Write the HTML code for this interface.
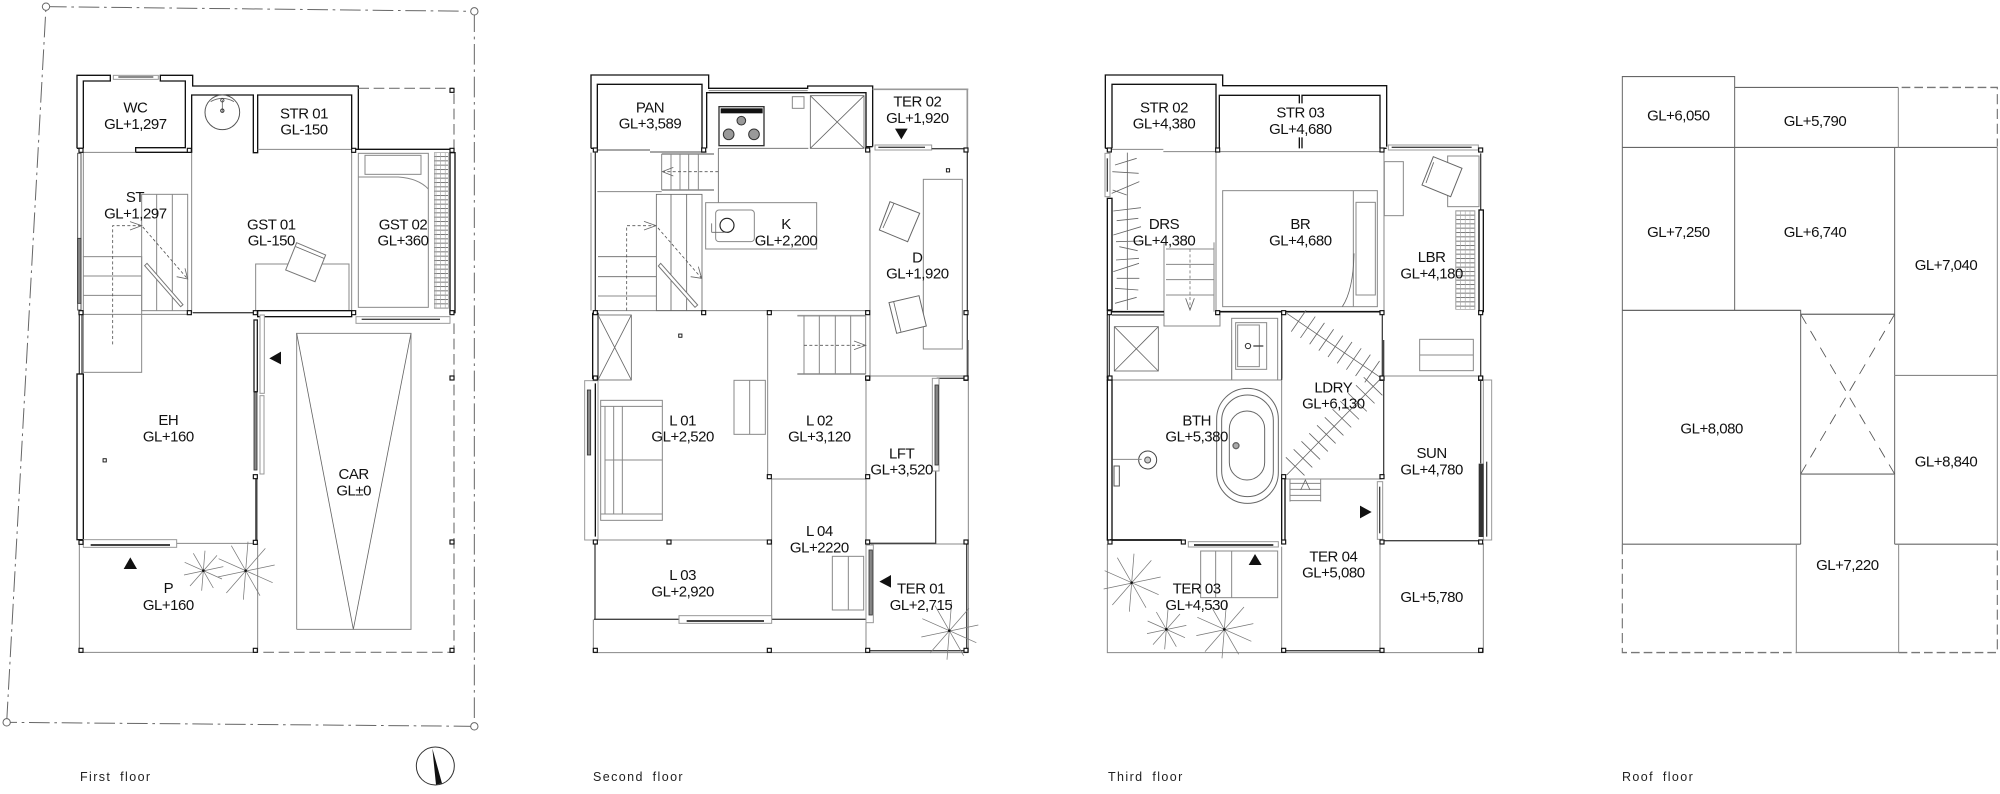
<!DOCTYPE html>
<html><head><meta charset="utf-8">
<style>
html,body{margin:0;padding:0;background:#fff}
svg{display:block}
text{font-family:"Liberation Sans","Noto Sans CJK JP",sans-serif;font-size:45px;letter-spacing:-1.4px;text-anchor:middle;fill:#111}
.cap{font-size:12.5px;text-anchor:start;fill:#222;letter-spacing:1.4px;word-spacing:4px}
.k{fill:none;stroke:#111;stroke-width:4}
.b{fill:none;stroke:#111;stroke-width:6}
.d{fill:none;stroke:#444;stroke-width:4}
.g{fill:none;stroke:#888;stroke-width:3}
.m{fill:none;stroke:#999;stroke-width:5}
.t{fill:none;stroke:#666;stroke-width:2.5}
.da{fill:none;stroke:#555;stroke-width:2.5;stroke-dasharray:9 7}
.ds{fill:none;stroke:#777;stroke-width:3.5;stroke-dasharray:32 14}
.f{fill:#111;stroke:none}
.fd{fill:#888;stroke:#333;stroke-width:2.5}
.w{fill:#fff;stroke:#999;stroke-width:3}
</style></head>
<body>
<svg xmlns="http://www.w3.org/2000/svg" width="2000" height="794" viewBox="0 0 2000 794">
<defs>
<g id="c"><rect x="-6" y="-6" width="12" height="12" fill="#fff" stroke="#111" stroke-width="3.5"/></g>
<g id="s" fill="none" stroke="#777" stroke-width="2.2">
<path d="M-56,-25L56,25M5,-60L-5,60M41,-46L-40,46M60,-12L-58,13M-30,-52L30,52"/>
<circle r="4" fill="#111" stroke="none"/>
</g>
<g id="S" fill="none" stroke="#777" stroke-width="2.2">
<path d="M-81,-36L81,36M7,-87L-7,87M59,-67L-58,67M87,-17L-84,19M-43,-75L43,75"/>
<circle r="4" fill="#111" stroke="none"/>
</g>
<pattern id="h" width="14" height="13" patternUnits="userSpaceOnUse"><rect width="14" height="13" fill="#fff"/><rect y="0" width="14" height="3" fill="#777"/><rect x="5" width="2" height="13" fill="#aaa"/></pattern>
</defs>

<!-- FIRST FLOOR upper -->
<g transform="scale(.33333)">
<path d="M138,20L1423,34M1423,34V2179M1423,2179L20,2167M20,2167L138,20" fill="none" stroke="#666" stroke-width="3" stroke-dasharray="62 14 8 14"/>
<circle cx="138" cy="20" r="11" fill="#fff" stroke="#666" stroke-width="3"/>
<circle cx="1423" cy="34" r="11" fill="#fff" stroke="#666" stroke-width="3"/>
<circle cx="20" cy="2167" r="11" fill="#fff" stroke="#666" stroke-width="3"/>
<circle cx="1423" cy="2179" r="11" fill="#fff" stroke="#666" stroke-width="3"/>

<path class="k" d="M231,445V226H331V243H250V445M231,445H250"/>
<path class="k" d="M481,226H578V258H1075V448H1055V285H773V458H760V285H575V457H407V443H556V243H481Z"/>
<rect x="340" y="226" width="135" height="12" class="w"/><path class="d" d="M355,231H460"/>
<path class="g" d="M250,457H407M575,457V938M1055,457V938M773,448H1055"/>
<path class="k" d="M1075,448H1350"/>
<rect x="1350" y="458" width="15" height="480" fill="#fff" stroke="#111" stroke-width="4"/>
<rect x="233" y="460" width="10" height="470" fill="#fff" stroke="#555" stroke-width="3"/>
<rect x="233" y="715" width="10" height="195" class="fd"/>
<path class="g" d="M250,457V770"/>
<rect x="1303" y="458" width="42" height="467" fill="url(#h)" stroke="#999" stroke-width="2"/>
<rect x="1075" y="460" width="210" height="462" class="g"/>
<rect x="1095" y="466" width="168" height="57" class="g"/>
<path class="g" d="M1075,531H1195Q1255,535 1285,567"/>
<rect x="425" y="583" width="138" height="349" class="g"/>
<path class="g" d="M470,583V932M517,583V932"/>
<rect x="250" y="770" width="175" height="347" class="g"/>
<path class="g" d="M250,828H425M250,886H425M250,943H575"/>
<path class="da" d="M338,1033V677H425L563,837"/>
<path class="t" d="M390,665L425,677L390,690M530,830L563,837L555,805"/>
<polygon points="441,790 549,914 542,920 434,797" fill="#fff" stroke="#777" stroke-width="3"/>
<path class="g" d="M767,935V792H1047V935"/>
<polygon points="890,728 977,765 945,845 857,810" fill="#fff" stroke="#777" stroke-width="3"/>
<path class="t" d="M887,740L972,775"/>
<circle cx="667" cy="337" r="52" fill="#fff" stroke="#555" stroke-width="3"/>
<path class="t" d="M632,305Q667,285 702,305M667,300V335"/>
<circle cx="667" cy="301" r="5" fill="none" stroke="#333" stroke-width="2.5"/>
<circle cx="667" cy="332" r="5" fill="none" stroke="#333" stroke-width="3"/>
<path class="d" d="M578,938H760"/>
<rect x="773" y="932" width="282" height="18" fill="#fff" stroke="#111" stroke-width="4"/>
<rect x="1068" y="950" width="282" height="20" class="w"/><path class="d" d="M1085,958H1320"/>
<rect x="762" y="960" width="10" height="215" fill="#fff" stroke="#222" stroke-width="4"/>
<rect x="780" y="945" width="13" height="235" class="w"/>
<polygon class="f" points="808,1075 843,1055 843,1093"/>
<path class="g" d="M890,1888V1000H1233V1888H890"/>
<path class="t" d="M890,1000L1060,1888L1233,1000"/>
<path class="ds" d="M1075,265H1360M1362,280V450"/>
<path class="ds" d="M1362,970V1950"/>
<path class="ds" d="M790,1957H1350"/>
<path class="d" d="M238,945V1130M246,945V1130"/>
<use href="#c" x="243" y="451"/><use href="#c" x="568" y="451"/><use href="#c" x="1061" y="451"/><use href="#c" x="1356" y="451"/>
<use href="#c" x="243" y="938"/><use href="#c" x="568" y="938"/><use href="#c" x="766" y="938"/><use href="#c" x="1061" y="938"/><use href="#c" x="1356" y="938"/>
<use href="#c" x="1356" y="271"/><use href="#c" x="1356" y="1134"/>
<text x="406" y="338">WC</text><text x="406" y="387">GL+1,297</text>
<text x="912" y="355">STR 01</text><text x="912" y="404">GL-150</text>
<text x="405" y="606">ST</text><text x="406" y="655">GL+1,297</text>
<text x="814" y="688">GST 01</text><text x="814" y="737">GL-150</text>
<text x="1209" y="688">GST 02</text><text x="1209" y="737">GL+360</text>
</g>

<!-- FIRST FLOOR lower -->
<g transform="translate(0,394) scale(.33333)">
<rect x="231" y="-60" width="19" height="497" fill="#fff" stroke="#111" stroke-width="4"/>
<rect x="762" y="-5" width="9" height="233" class="fd"/>
<rect x="780" y="5" width="12" height="235" class="w"/>
<path d="M769,250V445" fill="none" stroke="#444" stroke-width="7"/>
<rect x="250" y="437" width="280" height="23" class="w"/>
<path d="M272,453H510" fill="none" stroke="#444" stroke-width="6"/>
<path class="g" d="M530,448H770M238,445V775H773V448"/>
<use href="#c" x="243" y="445"/><use href="#c" x="766" y="445"/><use href="#c" x="243" y="769"/><use href="#c" x="766" y="769"/><use href="#c" x="1356" y="444"/><use href="#c" x="1356" y="769"/><use href="#c" x="766" y="248"/>
<g transform="translate(314,199) scale(.8)"><use href="#c"/></g>
<polygon class="f" points="371,525 411,525 391,490"/>
<use href="#s" x="610" y="530"/>
<use href="#S" x="737" y="530"/>
<text x="505" y="93">EH</text><text x="505" y="142">GL+160</text>
<text x="505" y="597">P</text><text x="505" y="648">GL+160</text>
<text x="1061" y="255">CAR</text><text x="1061" y="304">GL±0</text>
<circle cx="1306" cy="1116" r="57" fill="#fff" stroke="#333" stroke-width="3"/>
<polygon class="f" points="1297,1063 1326,1168 1308,1172"/>
</g>

<!-- SECOND FLOOR upper -->
<g transform="translate(570,50) scale(.33333)">
<path class="k" d="M63,295V75H416V115H713V108H908V290M82,295V103H396V295M63,295H82"/>
<path class="k" d="M410,295V128H713M888,295V128H713M908,290H888"/>
<path class="g" d="M416,122H713"/>
<path class="m" d="M908,118H1195M1192,118V295"/>
<rect x="915" y="285" width="170" height="15" class="w"/><path class="d" d="M925,292H1065"/>
<path class="d" d="M1085,296H1190M1192,300V985"/>
<path class="g" d="M900,300V985M895,978H1192M76,782H893"/>
<rect x="447" y="170" width="135" height="117" fill="#fff" stroke="#333" stroke-width="4"/>
<rect x="452" y="175" width="126" height="15" class="f"/>
<g fill="#999" stroke="#333" stroke-width="3">
<circle cx="514" cy="212" r="13"/><circle cx="476" cy="253" r="16"/><circle cx="552" cy="253" r="16"/>
</g>
<path class="t" d="M445,295H715M445,295V458"/>
<rect x="667" y="140" width="35" height="35" class="g"/>
<rect x="721" y="137" width="161" height="158" class="t"/>
<path class="t" d="M721,137L882,295M882,137L721,295"/>
<path class="m" d="M76,300H240M240,306H410M275,312H432M275,420H432"/>
<path class="g" d="M275,312V420M303,312V420M330,312V420M356,312V420M385,312V420"/>
<path class="da" d="M445,365H280"/><path class="t" d="M310,352L277,365L310,378"/>
<path class="g" d="M63,308V782M82,425H275"/><path class="d" d="M76,308V782"/>
<rect x="259" y="433" width="137" height="349" class="t"/>
<path class="t" d="M303,433V782M350,433V782M84,620H259M84,680H259M84,738H259"/>
<path class="da" d="M170,782V527H258L395,685"/>
<path class="t" d="M222,514L258,527L222,540M362,680L395,685L385,650"/>
<polygon points="272,640 383,765 375,772 265,648" fill="#fff" stroke="#777" stroke-width="3"/>
<rect x="407" y="458" width="333" height="139" class="g"/>
<rect x="437" y="480" width="116" height="95" rx="10" class="g"/>
<circle cx="471" cy="526" r="21" fill="#fff" stroke="#222" stroke-width="3.5"/>
<path class="t" d="M425,547H470M425,520V547"/>
<rect x="1060" y="388" width="117" height="509" class="g"/>
<polygon points="960,455 1049,490 1013,575 928,540" fill="#fff" stroke="#666" stroke-width="3"/>
<path class="t" d="M972,460L939,534"/>
<polygon points="957,758 1047,737 1069,828 980,850" fill="#fff" stroke="#666" stroke-width="3"/>
<path class="t" d="M971,755L993,846"/>
<path class="m" d="M682,797H887M682,972H887"/>
<path class="g" d="M702,797V972M748,797V972M796,797V972M842,797V972M887,797V972"/>
<path class="da" d="M702,886H887"/><path class="t" d="M852,873L887,886L852,899"/>
<rect x="68" y="790" width="16" height="195" fill="#fff" stroke="#111" stroke-width="4"/>
<rect x="84" y="795" width="100" height="195" class="t"/>
<path class="t" d="M84,795L184,990M184,795L84,990"/>
<use href="#c" x="76" y="300"/><use href="#c" x="401" y="300"/><use href="#c" x="893" y="300"/><use href="#c" x="1188" y="300"/>
<use href="#c" x="76" y="788"/><use href="#c" x="401" y="788"/><use href="#c" x="598" y="788"/><use href="#c" x="893" y="788"/><use href="#c" x="1188" y="788"/>
<use href="#c" x="893" y="985"/><use href="#c" x="1188" y="985"/><use href="#c" x="76" y="985"/>
<g transform="translate(1134,361) scale(.8)"><use href="#c"/></g>
<g transform="translate(331,857) scale(.8)"><use href="#c"/></g>
<polygon class="f" points="975,236 1013,236 994,268"/>
<text x="240" y="187">PAN</text><text x="240" y="236">GL+3,589</text>
<text x="1042" y="170">TER 02</text><text x="1042" y="219">GL+1,920</text>
<text x="648" y="537">K</text><text x="648" y="586">GL+2,200</text>
<text x="1042" y="637">D</text><text x="1042" y="686">GL+1,920</text>
</g>

<!-- SECOND FLOOR lower -->
<g transform="translate(570,340) scale(.33333)">
<path class="g" d="M593,-75V410M605,417V838M605,417H888M888,108V938M1195,0V938M888,108H1195M44,600H605M70,838V938M70,938H1195M903,612H1190"/>
<path class="d" d="M1097,390V610H888M1100,115H1190M75,600V838M72,838H327M605,838H888M900,932H1190M1190,612V938"/>
<rect x="1087" y="115" width="20" height="278" class="w"/>
<rect x="1095" y="135" width="10" height="240" class="fd"/>
<rect x="44" y="122" width="40" height="478" fill="none" stroke="#999" stroke-width="3"/>
<rect x="52" y="150" width="10" height="195" class="fd"/>
<path class="k" d="M76,130V590"/>
<rect x="92" y="181" width="185" height="360" class="g"/>
<path class="g" d="M105,199V522M131,199V522M157,199V522M92,199H277M105,360H277M92,522H277"/>
<rect x="492" y="121" width="94" height="162" class="g"/><path class="g" d="M539,121V283"/>
<rect x="327" y="827" width="278" height="23" class="w"/>
<path d="M350,843H582" fill="none" stroke="#444" stroke-width="6"/>
<rect x="787" y="649" width="94" height="161" class="g"/><path class="g" d="M835,649V810"/>
<rect x="888" y="615" width="22" height="233" class="w"/>
<rect x="897" y="630" width="10" height="195" class="fd"/>
<polygon class="f" points="928,725 963,705 963,743"/>
<use href="#S" x="1138" y="872"/>
<use href="#c" x="76" y="114"/><use href="#c" x="893" y="114"/><use href="#c" x="1188" y="114"/>
<use href="#c" x="598" y="410"/><use href="#c" x="893" y="410"/>
<use href="#c" x="76" y="606"/><use href="#c" x="297" y="606"/><use href="#c" x="598" y="606"/><use href="#c" x="893" y="606"/><use href="#c" x="1188" y="606"/>
<use href="#c" x="76" y="931"/><use href="#c" x="598" y="931"/><use href="#c" x="893" y="931"/><use href="#c" x="1188" y="931"/>
<text x="338" y="256">L 01</text><text x="338" y="305">GL+2,520</text>
<text x="748" y="256">L 02</text><text x="748" y="305">GL+3,120</text>
<text x="995" y="355">LFT</text><text x="995" y="404">GL+3,520</text>
<text x="338" y="720">L 03</text><text x="338" y="769">GL+2,920</text>
<text x="748" y="588">L 04</text><text x="748" y="637">GL+2220</text>
<text x="1053" y="761">TER 01</text><text x="1053" y="810">GL+2,715</text>
</g>

<!-- THIRD FLOOR upper -->
<g transform="translate(1090,50) scale(.33333)">
<path class="k" d="M46,295V75H398V107H890V290M66,295V103H378V295M46,295H66"/>
<path class="k" d="M388,295V136H628V160M636,160V136H870V295M628,262V295M636,262V295M870,295H890"/>
<path class="g" d="M66,298H220M220,305H880M378,305V785M882,305V785M885,978H1172"/>
<rect x="45" y="310" width="15" height="130" class="w"/><path class="d" d="M52,325V425"/>
<rect x="52" y="445" width="14" height="335" fill="#fff" stroke="#111" stroke-width="4"/>
<path class="t" d="M112,308V780M75,345L140,325M67,365L146,370M65,430L148,395M70,483L153,473M80,512L145,505M70,555L153,530M78,575L150,573M88,590L143,602M78,630L147,625M70,665L147,640M80,685L148,685M75,715L145,720M75,760L140,742M68,420L110,435"/>
<rect x="398" y="422" width="464" height="348" class="g"/>
<path class="g" d="M790,422V770"/>
<rect x="798" y="457" width="58" height="278" class="g"/>
<path class="t" d="M757,770Q790,720 792,610"/>
<path class="g" d="M222,580V828H390V785M372,577V785M228,597H372M228,643H372M228,689H372M228,735H372"/>
<path class="da" d="M300,597V780" style="stroke:#777"/><path class="t" d="M287,745L300,780L313,745"/>
<path class="b" d="M58,785H222M385,785H875" style="stroke-width:5"/>
<rect x="895" y="285" width="270" height="15" class="w"/><path class="d" d="M905,292H1145"/>
<path class="d" d="M1172,310V985"/>
<rect x="1167" y="480" width="13" height="305" fill="#fff" stroke="#111" stroke-width="4"/>
<rect x="1097" y="482" width="58" height="296" fill="url(#h)" stroke="#999" stroke-width="2"/>
<rect x="883" y="335" width="57" height="162" class="g"/>
<rect x="1073" y="318" width="94" height="152" class="g"/>
<polygon points="1030,320 1116,355 1082,440 996,405" fill="#fff" stroke="#666" stroke-width="3"/>
<path class="t" d="M1031,337L1008,399"/>
<rect x="989" y="868" width="161" height="94" class="g"/><path class="g" d="M989,915H1150"/>
<path class="d" d="M877,790V985M58,795V985M52,795V985M575,790V985M66,795H222"/>
<rect x="425" y="805" width="138" height="185" class="g"/>
<rect x="437" y="818" width="93" height="140" class="g"/>
<rect x="443" y="825" width="65" height="125" class="g"/>
<circle cx="474" cy="888" r="8" fill="#fff" stroke="#333" stroke-width="3"/>
<path class="d" d="M490,888H520"/>
<rect x="73" y="830" width="132" height="133" class="t"/><path class="t" d="M73,830L205,963M205,830L73,963"/>
<path class="t" d="M590,790L875,985"/>
<line x1="625" y1="812" x2="868" y2="980" stroke="#666" stroke-width="78" stroke-dasharray="2.5 31"/>
<use href="#c" x="58" y="300"/><use href="#c" x="383" y="300"/><use href="#c" x="876" y="300"/><use href="#c" x="1172" y="300"/>
<use href="#c" x="58" y="788"/><use href="#c" x="383" y="788"/><use href="#c" x="581" y="788"/><use href="#c" x="876" y="788"/><use href="#c" x="1172" y="788"/>
<use href="#c" x="58" y="985"/><use href="#c" x="876" y="985"/><use href="#c" x="1172" y="985"/>
<text x="222" y="187">STR 02</text><text x="222" y="236">GL+4,380</text>
<text x="631" y="203">STR 03</text><text x="631" y="252">GL+4,680</text>
<text x="222" y="537">DRS</text><text x="222" y="586">GL+4,380</text>
<text x="631" y="537">BR</text><text x="631" y="586">GL+4,680</text>
<text x="1025" y="636">LBR</text><text x="1025" y="685">GL+4,180</text>
</g>

<!-- THIRD FLOOR lower -->
<g transform="translate(1090,340) scale(.33333)">
<path class="g" d="M52,120H575M425,0V120M575,120V410M580,417H875M52,612V938H1180M575,620V938M870,600V938M1180,610V938M885,108H1172"/>
<path class="d" d="M881,0V410M580,932H870M870,602H1172M1172,120V370M575,0V120"/>
<rect x="52" y="120" width="14" height="480" fill="#fff" stroke="#111" stroke-width="4"/>
<rect x="380" y="145" width="185" height="345" rx="92" class="g" style="stroke:#666"/>
<rect x="395" y="165" width="155" height="305" rx="77" class="g" style="stroke:#666"/>
<rect x="418" y="213" width="106" height="207" rx="53" class="g" style="stroke:#666"/>
<circle cx="438" cy="317" r="9" fill="#aaa" stroke="#666" stroke-width="4"/>
<circle cx="173" cy="360" r="27" fill="#fff" stroke="#444" stroke-width="3"/>
<circle cx="173" cy="360" r="9" fill="#ccc" stroke="#555" stroke-width="3"/>
<path class="g" d="M68,358H155"/>
<rect x="72" y="378" width="16" height="60" fill="#fff" stroke="#555" stroke-width="3"/>
<path class="b" d="M60,600H275" style="stroke-width:5"/>
<path class="k" d="M585,410V600M575,410V600"/>
<rect x="295" y="605" width="270" height="16" class="w"/>
<path d="M312,615H550" fill="none" stroke="#444" stroke-width="6"/>
<rect x="332" y="633" width="231" height="140" class="g"/><path class="g" d="M377,633V773M425,633V773"/>
<polygon class="f" points="476,675 515,675 495,642"/>
<polygon class="f" points="810,497 845,516 810,535"/>
<path class="g" d="M600,418V485M692,418V485M600,430H692M600,448H692M600,466H692M600,482H692"/>
<path class="t" d="M632,450L646,420L660,450"/>
<rect x="862" y="425" width="16" height="173" class="w"/><path class="d" d="M869,440V580"/>
<rect x="1180" y="120" width="25" height="480" class="w"/>
<rect x="1167" y="372" width="13" height="218" fill="#333" stroke="#333" stroke-width="2"/>
<path class="d" d="M1190,365V590"/>
<path class="t" d="M875,113L590,405"/>
<line x1="850" y1="138" x2="605" y2="390" stroke="#666" stroke-width="78" stroke-dasharray="2.5 31"/>
<use href="#S" x="125" y="728"/>
<use href="#s" x="229" y="868"/>
<use href="#S" x="403" y="868"/>
<use href="#c" x="60" y="114"/><use href="#c" x="876" y="114"/><use href="#c" x="1172" y="114"/>
<use href="#c" x="581" y="410"/><use href="#c" x="876" y="410"/>
<use href="#c" x="60" y="606"/><use href="#c" x="280" y="606"/><use href="#c" x="581" y="606"/><use href="#c" x="876" y="606"/><use href="#c" x="1172" y="606"/>
<use href="#c" x="581" y="931"/><use href="#c" x="876" y="931"/><use href="#c" x="1172" y="931"/>
<text x="730" y="157">LDRY</text><text x="730" y="206">GL+6,130</text>
<text x="320" y="256">BTH</text><text x="320" y="305">GL+5,380</text>
<text x="1025" y="354">SUN</text><text x="1025" y="403">GL+4,780</text>
<text x="730" y="664">TER 04</text><text x="730" y="713">GL+5,080</text>
<text x="1025" y="786">GL+5,780</text>
<text x="320" y="761">TER 03</text><text x="320" y="810">GL+4,530</text>
</g>

<!-- ROOF -->
<g transform="translate(1600,59) scale(.33333,.3897)">
<path class="t" style="stroke-width:3" d="M67,227V45H404V227M404,73H895M67,227H1192M67,227V1245M404,227V645M67,645H602V1245M884,227V1245M602,655H884M602,1065H884M67,1245H602M884,1245H1192"/>
<path class="g" d="M895,73V227M884,812H1192M589,1245V1523H896M896,1245V1523M1192,227V1245"/>
<path class="ds" style="stroke-dasharray:26 12" d="M905,73H1192V225M67,1245V1523H589M896,1523H1192V1245"/>
<path class="da" style="stroke-dasharray:30 22" d="M602,655L884,1065M884,655L602,1065"/>
</g>
<g transform="translate(1600,0) scale(.33333)">
<text x="235" y="362">GL+6,050</text>
<text x="645" y="378">GL+5,790</text>
<text x="235" y="711">GL+7,250</text>
<text x="645" y="711">GL+6,740</text>
<text x="1038" y="810">GL+7,040</text>
<text x="335" y="1300">GL+8,080</text>
<text x="1038" y="1400">GL+8,840</text>
<text x="742" y="1710">GL+7,220</text>
</g>

<text class="cap" x="80" y="781">First floor</text>
<text class="cap" x="593" y="781">Second floor</text>
<text class="cap" x="1108" y="781">Third floor</text>
<text class="cap" x="1622" y="781">Roof floor</text>
</svg>
</body></html>
